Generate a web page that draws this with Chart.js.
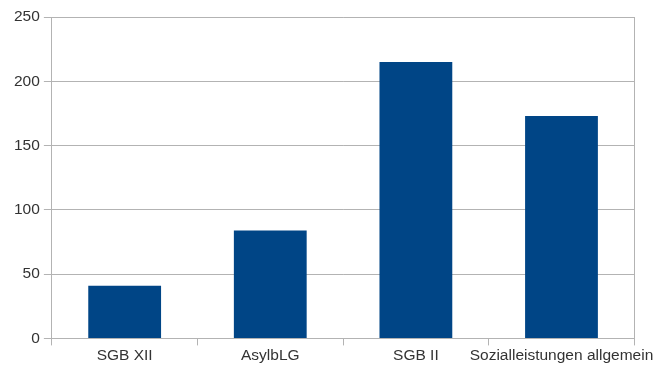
<!DOCTYPE html>
<html>
<head>
<meta charset="utf-8">
<script src="https://cdn.jsdelivr.net/npm/chart.js@4.4.0/dist/chart.umd.min.js"></script>
<style>
  html, body { margin: 0; padding: 0; background: #fff; }
  #wrap { width: 657px; height: 371px; }
</style>
</head>
<body>
<div id="wrap"><canvas id="c" width="657" height="371"></canvas></div>
<script>
const categories = ["SGB XII", "AsylbLG", "SGB II", "Sozialleistungen allgemein"];
const values = [41, 84, 215, 173];
const yTicks = [0, 50, 100, 150, 200, 250];

const gridColor = "#b3b3b3";
const textColor = "#333333";
const labelFont = { family: "Liberation Sans", size: 15.5 };

new Chart(document.getElementById("c"), {
  type: "bar",
  data: {
    labels: categories,
    datasets: [{
      data: values,
      backgroundColor: "#004586",
      borderWidth: 0,
      categoryPercentage: 1.0,
      barPercentage: 0.5
    }]
  },
  options: {
    responsive: false,
    animation: false,
    devicePixelRatio: 1,
    layout: { padding: { left: 10, right: 14, top: 17, bottom: 5 } },
    plugins: { legend: { display: false }, tooltip: { enabled: false } },
    scales: {
      x: {
        offset: true,
        grid: { display: true, drawOnChartArea: false, color: gridColor, tickLength: 7, offset: true },
        border: { color: gridColor },
        ticks: { color: textColor, font: labelFont, padding: 1, maxRotation: 0, autoSkip: false }
      },
      y: {
        min: 0,
        max: 250,
        afterBuildTicks: (axis) => { axis.ticks = yTicks.map(v => ({ value: v })); },
        grid: { color: gridColor, tickLength: 8 },
        border: { color: gridColor },
        ticks: { color: textColor, font: labelFont, padding: 4 }
      },
      y2: {
        position: "right",
        min: 0,
        max: 250,
        grid: { display: false },
        border: { display: true, color: gridColor },
        ticks: { display: false }
      }
    }
  }
});
</script>
</body>
</html>
